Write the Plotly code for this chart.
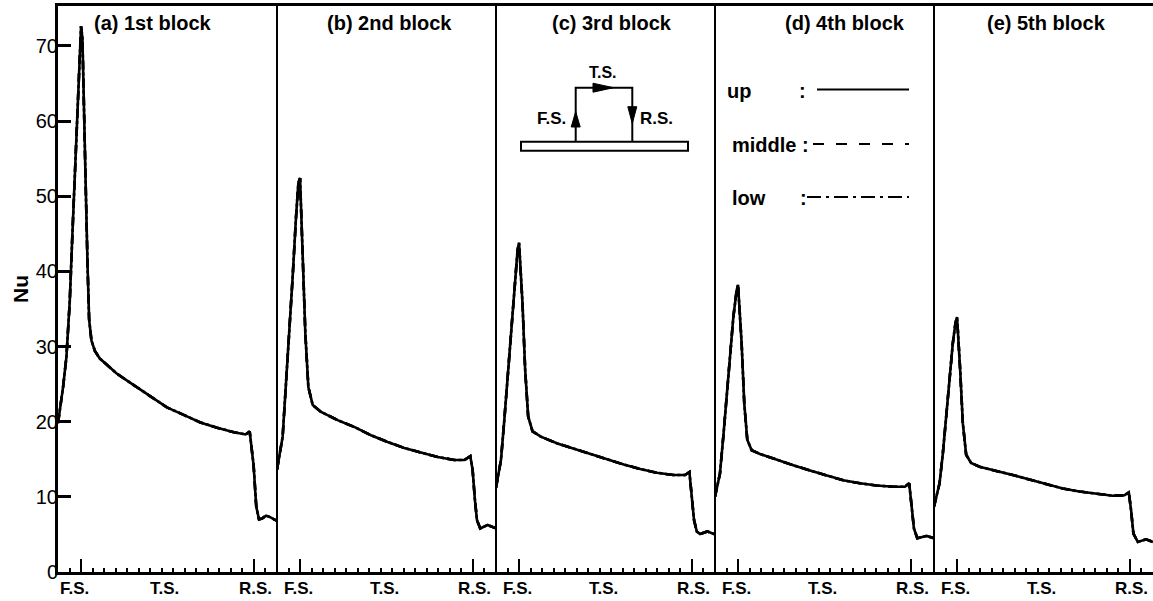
import plotly.graph_objects as go

# ---------------- data ----------------
panel_titles = ["(a) 1st block", "(b) 2nd block", "(c) 3rd block", "(d) 4th block", "(e) 5th block"]
series_names = ["up", "middle", "low"]
series_dash = ["solid", "dash", "dashdot"]

x_a = [0, 0.44, 0.73, 1.02, 1.25, 1.48, 1.72, 1.9, 2.0, 2.12, 2.24, 2.41, 2.56, 2.7, 2.9, 3.2, 3.63,
       5.09, 6.54, 8.0, 9.45, 10.9, 12.35, 13.8, 15.26, 16.28, 16.63, 16.97, 17.2, 17.44, 17.7, 18.05, 18.4, 19.0]
nu_a = [19.8, 24.6, 28.6, 36.0, 45.0, 53.5, 62.0, 68.4, 72.6, 71.0, 61.0, 51.0, 41.0, 33.6, 30.8, 29.4, 28.4,
        26.4, 24.9, 23.4, 21.9, 20.9, 19.9, 19.2, 18.6, 18.3, 18.7, 14.2, 8.7, 7.0, 7.1, 7.5, 7.3, 6.8]

x_b = [0, 0.49, 0.78, 1.07, 1.36, 1.65, 1.85, 2.0, 2.23, 2.46, 2.72, 3.1, 3.82, 5.26, 6.7, 8.15, 9.6,
       11.04, 12.49, 13.94, 15.38, 16.25, 16.77, 16.97, 17.17, 17.35, 17.63, 18.27, 19.0]
nu_b = [13.6, 18.0, 25.1, 31.7, 39.3, 47.2, 51.7, 52.4, 42.8, 31.7, 24.6, 22.2, 21.3, 20.2, 19.3, 18.2, 17.3,
        16.5, 15.9, 15.3, 14.9, 14.9, 15.4, 13.6, 9.6, 6.9, 5.8, 6.25, 5.8]

x_c = [0, 0.43, 0.72, 1.01, 1.30, 1.58, 1.87, 2.0, 2.3, 2.53, 2.79, 3.17, 3.89, 5.33, 6.76, 8.2, 9.65,
       11.08, 12.52, 13.96, 15.4, 16.4, 16.78, 16.98, 17.18, 17.42, 17.7, 18.33, 19.0]
nu_c = [11.2, 14.9, 20.2, 26.0, 32.2, 37.9, 42.8, 43.8, 35.7, 26.9, 20.7, 18.7, 18.0, 17.1, 16.4, 15.7, 15.0,
        14.3, 13.7, 13.2, 12.9, 12.9, 13.3, 10.5, 6.9, 5.4, 5.05, 5.4, 5.0]

x_d = [0, 0.43, 0.72, 1.01, 1.30, 1.59, 1.88, 2.0, 2.31, 2.54, 2.8, 3.18, 3.9, 5.35, 6.79, 8.24, 9.69,
       11.13, 12.58, 14.02, 15.46, 16.48, 16.85, 17.06, 17.26, 17.55, 18.36, 19.0]
nu_d = [10.0, 13.1, 18.0, 23.3, 28.6, 33.9, 37.5, 38.2, 30.4, 22.4, 17.6, 16.2, 15.7, 14.9, 14.2, 13.5, 12.8,
        12.2, 11.8, 11.5, 11.35, 11.35, 11.8, 9.1, 5.8, 4.5, 4.8, 4.5]

x_e = [0, 0.48, 0.77, 1.06, 1.35, 1.63, 1.86, 2.0, 2.27, 2.5, 2.79, 3.22, 3.95, 5.39, 6.83, 8.28, 9.73,
       11.17, 12.62, 14.07, 15.5, 16.52, 16.9, 17.1, 17.3, 17.68, 18.4, 19.0]
nu_e = [8.7, 11.8, 15.8, 21.1, 26.0, 30.4, 33.1, 33.9, 26.9, 19.8, 15.6, 14.5, 14.0, 13.5, 12.9, 12.3, 11.7,
        11.1, 10.7, 10.4, 10.15, 10.2, 10.6, 8.2, 5.1, 4.0, 4.35, 4.0]

panel_x = [x_a, x_b, x_c, x_d, x_e]
panel_nu = [nu_a, nu_b, nu_c, nu_d, nu_e]

x_major_ticks = [2, 17]
x_tick_labels = ["F.S.", "T.S.", "R.S."]
x_label_pos = [[1.4, 9.2, 17.15], [1.85, 9.3, 17.15], [1.85, 9.3, 17.15], [1.85, 9.3, 17.15], [1.85, 9.3, 17.15]]
title_pos = [8.2, 9.8, 10.1, 11.3, 9.8]
y_ticks = [0, 10, 20, 30, 40, 50, 60, 70]

# ---------------- figure ----------------
W, H = 1153, 601
ML, MR, MT, MB = 58, 0, 6, 29
PW, PH = W - ML - MR, H - MT - MB
FONT = "Liberation Sans, Arial, sans-serif"


def P(px, py):
    """pixel position -> paper coordinates (for decorations only)"""
    return (px - ML) / PW, (H - MB - py) / PH


fig = go.Figure()
for i in range(5):
    ax = "x" if i == 0 else f"x{i+1}"
    for name, dash in zip(series_names, series_dash):
        fig.add_trace(go.Scatter(
            x=panel_x[i], y=panel_nu[i], mode="lines", name=name,
            line=dict(color="black", width=2.6, dash=dash),
            xaxis=ax, yaxis="y", showlegend=False, hoverinfo="skip"))

layout = dict(
    width=W, height=H,
    margin=dict(l=ML, r=MR, t=MT, b=MB, pad=0),
    paper_bgcolor="white", plot_bgcolor="white",
    font=dict(family=FONT, color="black"),
    showlegend=False,
)

for i in range(5):
    key = "xaxis" if i == 0 else f"xaxis{i+1}"
    layout[key] = dict(
        domain=[i / 5, (i + 1) / 5], range=[0, 19], anchor="y",
        showline=True, linecolor="black", linewidth=2.5, mirror=True,
        ticks="inside", tickvals=x_major_ticks, ticklen=13, tickwidth=2, tickcolor="black",
        showticklabels=False, showgrid=False, zeroline=False,
        minor=dict(ticks="inside", ticklen=4, tickwidth=1.5, tickcolor="black",
                   dtick=1, tick0=0, showgrid=False),
    )

layout["yaxis"] = dict(
    domain=[0, 1], range=[0, 75.3], anchor="x",
    showline=True, linecolor="black", linewidth=3, mirror=False,
    ticks="inside", tickvals=y_ticks, ticklen=13, tickwidth=2.5, tickcolor="black",
    tickfont=dict(size=20, family=FONT), ticklabelstandoff=-7,
    showgrid=False, zeroline=False,
    title=dict(text="<b>Nu</b>", font=dict(size=21, family=FONT), standoff=2),
)

fig.update_layout(**layout)

shapes = []
annotations = []

# panel dividers
for i in range(1, 5):
    shapes.append(dict(type="line", xref="paper", yref="paper", x0=i / 5, x1=i / 5, y0=0, y1=1,
                       line=dict(color="black", width=2)))

# panel titles and x tick labels
for i in range(5):
    ax = "x" if i == 0 else f"x{i+1}"
    annotations.append(dict(xref=ax, yref="paper", x=title_pos[i], y=1, yshift=-4,
                            xanchor="center", yanchor="top", showarrow=False,
                            text=f"<b>{panel_titles[i]}</b>", font=dict(size=20, family=FONT)))
    for lab, pos in zip(x_tick_labels, x_label_pos[i]):
        annotations.append(dict(xref=ax, yref="paper", x=pos, y=0, yshift=-5,
                                xanchor="center", yanchor="top", showarrow=False,
                                text=f"<b>{lab}</b>", font=dict(size=17, family=FONT)))

# legend drawn inside panel (d)
def hline(x0, x1, y, dash):
    a = P(x0, y)
    b = P(x1, y)
    return dict(type="line", xref="paper", yref="paper", x0=a[0], y0=a[1], x1=b[0], y1=b[1],
                line=dict(color="black", width=2, dash=dash))


def label(px, py, text, size, anchor="left"):
    x, y = P(px, py)
    return dict(xref="paper", yref="paper", x=x, y=y, xanchor=anchor, yanchor="middle",
                showarrow=False, text=f"<b>{text}</b>", font=dict(size=size, family=FONT))


shapes.append(hline(817, 909, 89.5, "solid"))
shapes.append(hline(813, 909, 144, "11px,12px"))
shapes.append(hline(807, 909, 197, "14px,5px,3px,5px"))
annotations.append(label(725, 91, "up", 20))
annotations.append(label(802, 91, ":", 20, "center"))
annotations.append(label(730, 145, "middle :", 20))
annotations.append(label(730, 198, "low", 20))
annotations.append(label(803, 198, ":", 20, "center"))

# block schematic inside panel (c)
def path(points, close=False):
    s = ""
    for k, (px, py) in enumerate(points):
        x, y = P(px, py)
        s += ("M" if k == 0 else "L") + f"{x:.5f},{y:.5f} "
    if close:
        s += "Z"
    return s


shapes.append(dict(type="path", xref="paper", yref="paper",
                   path=path([(575.7, 141.7), (575.7, 87.7), (632.3, 87.7), (632.3, 141.7)]),
                   line=dict(color="black", width=2)))
r0 = P(521, 150.7)
r1 = P(688, 141.7)
shapes.append(dict(type="rect", xref="paper", yref="paper", x0=r0[0], y0=r0[1], x1=r1[0], y1=r1[1],
                   line=dict(color="black", width=2), fillcolor="white"))
for tri in ([(571.2, 127), (580.2, 127), (575.7, 111.5)],
            [(593, 83.2), (593, 92.2), (613.5, 87.7)],
            [(627.8, 106.7), (636.8, 106.7), (632.3, 123.5)]):
    shapes.append(dict(type="path", xref="paper", yref="paper", path=path(tri, True),
                       line=dict(color="black", width=1), fillcolor="black"))
annotations.append(label(603, 72, "T.S.", 16, "center"))
annotations.append(label(551.5, 119, "F.S.", 17, "center"))
annotations.append(label(656, 119, "R.S.", 17, "center"))

fig.update_layout(shapes=shapes, annotations=annotations)
fig.write_html("out.html")
